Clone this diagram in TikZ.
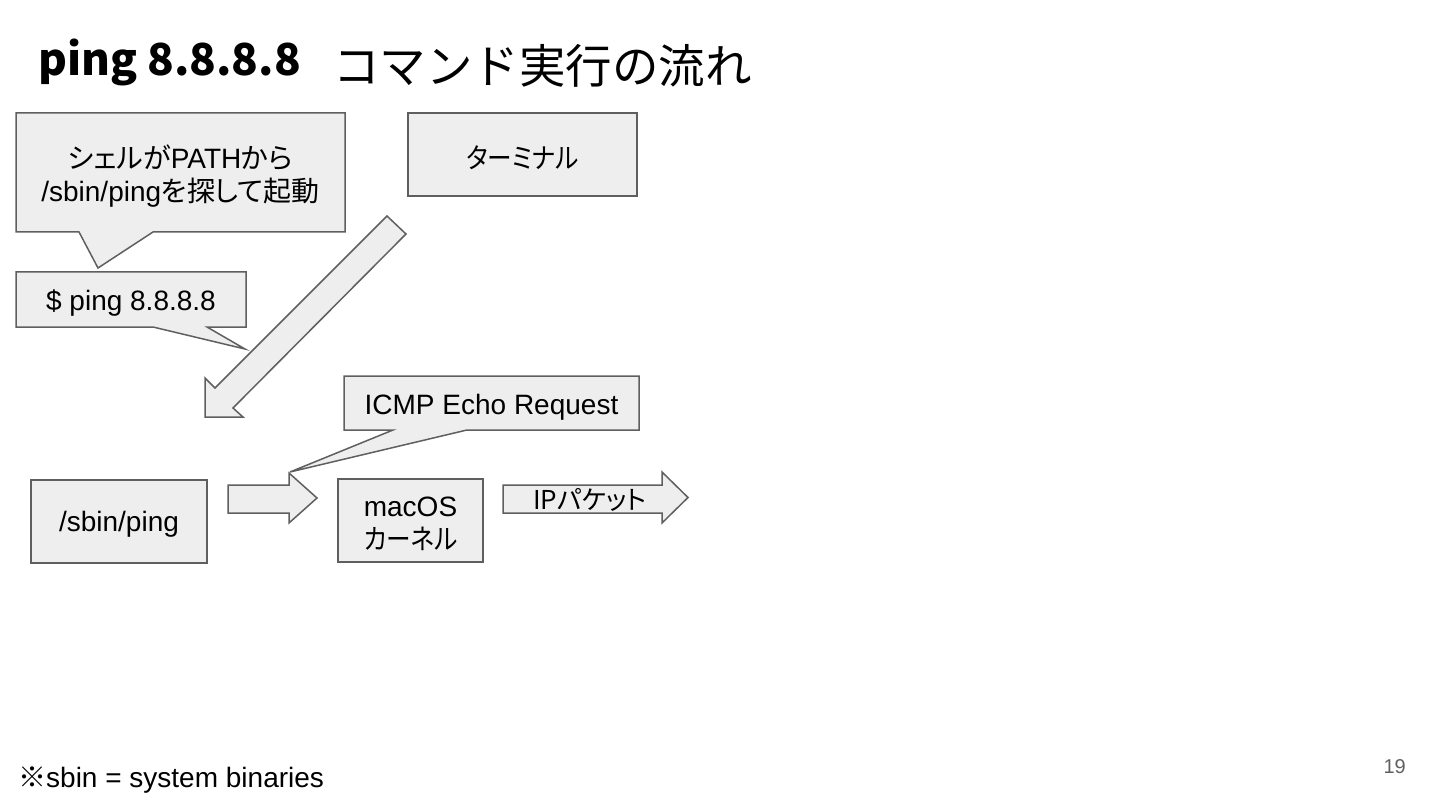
\documentclass[tikz,border=0pt]{standalone}
\usepackage{fontspec}
\usepackage{graphicx}
\usepackage{tikz}
\usepackage{xcolor}
\setmainfont{Liberation Sans}
\newfontfamily\jpfont{Noto Sans CJK JP}[RawFeature=+palt]
\newfontfamily\jptitle{Noto Sans CJK JP}
\usetikzlibrary{positioning}
\definecolor{linegray}{HTML}{5F5F5F}
\definecolor{boxgray}{HTML}{EEEEEE}
\tikzset{
  boxnode/.style={
    draw=linegray, fill=boxgray, line width=1.5pt, inner sep=0pt
  },
  blockshape/.style={draw=linegray, fill=boxgray, line width=1.5pt, line join=miter},
  boxtext/.style={inner sep=0pt, align=center, font=\fontsize{28}{33}\selectfont},
}
\newcommand{\jp}[1]{{\jpfont #1}}
\newcommand{\jpn}[1]{\scalebox{0.88}[1]{\jpfont #1}}

\begin{document}
\begin{tikzpicture}[x=1pt, y=-1pt]
  \useasboundingbox (0,0) rectangle (1440,810);

  % title
  \node[anchor=base west, inner sep=0pt, font=\fontsize{44}{48}\selectfont\jptitle\bfseries]
    (title) at (38,76) {ping 8.8.8.8};
  \node[anchor=base west, inner sep=0pt, font=\fontsize{46.5}{48}\selectfont\jptitle]
    (subtitle) at (333,84) {コマンド実行の流れ};

  % callouts
  \draw[blockshape] (16,113) -- (345,113) -- (345,232) -- (153,232)
    -- (98,268) -- (79,232) -- (16,232) -- cycle;
  \node[boxtext] (shell) at (180.5,176) {\jp{シェルが}PATH\jp{から}\\/sbin/ping\jp{を探して起動}};

  \draw[blockshape] (16,272) -- (246,272) -- (246,327) -- (207,327)
    -- (245,349) -- (153,327) -- (16,327) -- cycle;
  \node[boxtext] (cmd) at (131,303) {\$ ping 8.8.8.8};

  \node[boxnode, minimum width=229, minimum height=83] (term) at (522.5,154.5) {};
  \node[boxtext] (termtext) at ([yshift=-3pt]term.center) {\jpn{ターミナル}};

  % big arrow from terminal
  \draw[blockshape] (205,417) -- (205,378) -- (215,388) -- (387,216)
    -- (406,234) -- (233,408) -- (243,417) -- cycle;

  \draw[blockshape] (344,376) -- (639,376) -- (639,430) -- (467,430)
    -- (290,472) -- (393,430) -- (344,430) -- cycle;
  \node[boxtext] (icmp) at (491.5,407) {ICMP Echo Request};

  % bottom row
  \node[boxnode, minimum width=176, minimum height=83] (ping) at (119,521.5) {};
  \node[boxtext] (pingtext) at ([yshift=-3pt]ping.center) {/sbin/ping};
  \node[boxnode, minimum width=145, minimum height=83] (kernel) at (410.5,520.5) {};
  \node[boxtext] (kerneltext) at ([yshift=-3pt]kernel.center) {macOS\\\jpn{カーネル}};

  \draw[blockshape] (228,485) -- (289,485) -- (289,473) -- (317,498)
    -- (289,523) -- (289,513) -- (228,513) -- cycle;
  \draw[blockshape] (503,485) -- (662,485) -- (662,472) -- (688,497.5)
    -- (662,523) -- (662,513) -- (503,513) -- cycle;
  \node[boxtext, font=\fontsize{26}{30}\selectfont] (ippkt) at (590,500) {\jp{IPパケット}};

  % footer
  \node[anchor=base west, inner sep=0pt, font=\fontsize{28}{33}\selectfont]
    (note) at (18,787) {\jp{※}sbin = system binaries};
  \node[anchor=base east, inner sep=0pt, font=\fontsize{20}{20}\selectfont, text=linegray]
    (pagenum) at (1406,773) {19};
\end{tikzpicture}
\end{document}
